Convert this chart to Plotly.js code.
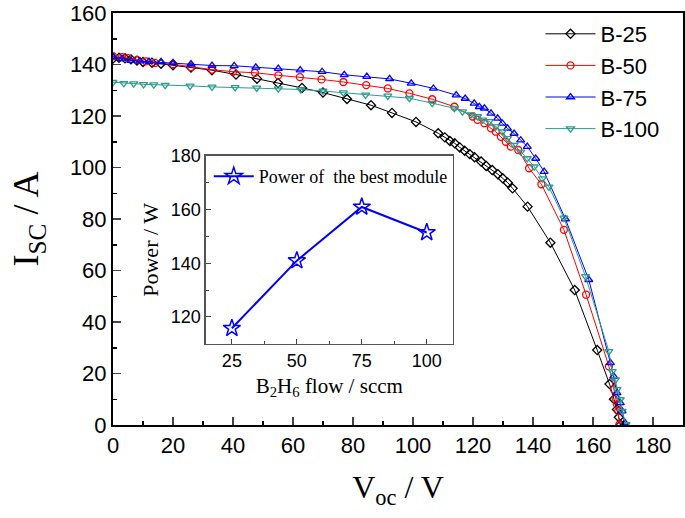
<!DOCTYPE html>
<html>
<head>
<meta charset="utf-8">
<script src="https://cdn.plot.ly/plotly-3.0.1.min.js"></script>
<style>html,body{margin:0;padding:0;background:#fff}#chart{width:685px;height:518px}</style>
</head>
<body>
<div id="chart"></div>
<script>
// ---- Data ----
const b25V = [0,2,4,6,8,10,13,16,20,26,33,41,48,55,63,70,78,86,93,101,108.4,110.6,112.3,113.9,115.6,117.2,118.9,120.5,122.7,124.4,126.4,128.3,129.9,131.6,133.2,138.2,145.8,153.9,161.4,165.5,167,168,168.6,169.2];
const b25I = [142.3,142.6,142.4,142,141.5,141,140.7,140.3,139.7,138.8,137.8,136.1,134.5,132.8,130.9,129.1,126.6,124.2,121.2,117.7,113.3,111.7,110.3,109.4,107.8,106.5,105.2,104,102.3,100.6,99,97.4,95.8,94.1,91.9,84.8,70.8,52.4,29.1,15.9,10,6,3,0];

const b50V = [0,3,5,8,11,14,20,26,33,40,47.3,55.1,62.3,69.5,76.8,84.4,91.6,98.8,106.4,113.8,119.9,121.5,123.8,126,127.6,129.3,130.9,132.6,135.1,138.7,142.8,150.3,157.7,165.3,167,167.5,168,168.4,168.8];
const b50I = [143.2,142.9,142.5,141.8,141.2,140.6,140.1,139,138,137.2,136.8,135.8,135.1,134.2,133.2,132,130.7,128.8,126.5,123.6,119.8,118.5,117.2,115.2,113.9,111.9,110,108.1,106.8,99.7,93.5,75.8,50.6,22.8,13.8,10.5,8,5.4,0.2];

const b75V = [0,3,6,9,12,16,20,26,33,40.4,47.6,55.1,62.4,69.7,77.1,84.6,92.2,99.4,106.8,114.4,117.4,120.4,122.1,123.8,126,128.2,129.8,131.5,133.7,135.9,138.1,140.9,143.7,150.8,158.6,165.8,166.9,168,169.1,169.7,170.6];
const b75I = [143,142.2,141.5,141.3,141.1,141,140.7,140.2,139.6,139.5,138.9,138.4,137.8,137.2,136,135.3,134.4,132.7,130.7,128.1,126.8,124.9,123.6,123,121,119.1,117.1,115.2,113.2,110.6,108.1,103.5,98.4,80,56.4,24.1,18.9,12.5,8.6,5.4,0.9];

const b100V = [0,3.6,6.9,10.2,13.6,17.4,25.7,33,40.7,47.9,55.1,62.6,70,76.8,84.2,91.6,98.8,106.4,113.8,116.5,119.3,121.5,123.2,125.4,127.6,129.8,131.5,133.7,135.9,138.1,140.4,143.1,145.3,150.3,157.5,165.3,166.4,167.5,168,169.1,169.7,171];
const b100I = [133.1,132.7,132.6,132.3,132.2,132,131.7,131.3,131.1,130.9,130.6,130.3,129.7,129.1,128.2,127.8,126.9,125,123,121.7,120.5,119.8,118.5,117.9,115.9,113.9,111.3,108.7,106.1,103.5,100.3,95.7,92.5,80.4,57.7,28.6,20.8,17.6,13.8,9.9,5.4,0.2];

const flow = [25, 50, 75, 100];
const power = [115.8, 141, 161, 151.5];

const names = ['B-25', 'B-50', 'B-75', 'B-100'];
const colors = ['#000000', '#ff0000', '#0000ff', '#2a9d8f'];

// ---- Traces ----
function ivTrace(x, y, name, color, symbol, grp) {
  return {
    x: x, y: y, name: name, type: 'scatter', mode: 'lines+markers',
    line: {color: color, width: 1},
    marker: {symbol: symbol, size: 7, color: color, line: {color: color, width: 1.3}},
    legendgroup: grp, xaxis: 'x', yaxis: 'y'
  };
}
const traces = [
  ivTrace(b25V, b25I, names[0], colors[0], 'diamond-open', 'g1'),
  ivTrace(b50V, b50I, names[1], colors[1], 'circle-open', 'g2'),
  ivTrace(b75V, b75I, names[2], colors[2], 'triangle-up-open', 'g3'),
  ivTrace(b100V, b100I, names[3], colors[3], 'triangle-down-open', 'g4'),
  {
    x: flow, y: power, name: 'Power of  the best module', type: 'scatter', mode: 'lines+markers',
    line: {color: '#0000ff', width: 2},
    marker: {symbol: 'star-open', size: 13, color: '#0000ff', line: {color: '#0000ff', width: 1.5}},
    xaxis: 'x2', yaxis: 'y2', legend: 'legend2'
  }
];

const serif = 'Liberation Serif, Times New Roman, serif';
const sans = 'Liberation Sans, Arial, sans-serif';

const layout = {
  width: 685, height: 518,
  margin: {l: 113, r: 2, t: 13, b: 93},
  paper_bgcolor: '#fff', plot_bgcolor: '#fff',
  showlegend: true,
  xaxis: {
    range: [0, 190], tick0: 0, dtick: 20, ticks: 'inside', ticklen: 8, tickwidth: 1.5,
    minor: {dtick: 10, ticks: 'inside', ticklen: 4, tickwidth: 1.5, tickcolor: '#000'},
    showline: true, linewidth: 2, linecolor: '#000', mirror: true, showgrid: false, zeroline: false,
    tickfont: {family: sans, size: 22, color: '#000'},
    title: {text: 'V<sub>oc</sub> / V', font: {family: serif, size: 32, color: '#000'}, standoff: 18},
    domain: [0, 1]
  },
  yaxis: {
    range: [0, 160], tick0: 0, dtick: 20, ticks: 'inside', ticklen: 8, tickwidth: 1.5,
    minor: {dtick: 10, ticks: 'inside', ticklen: 4, tickwidth: 1.5, tickcolor: '#000'},
    showline: true, linewidth: 2, linecolor: '#000', mirror: true, showgrid: false, zeroline: false,
    tickfont: {family: sans, size: 22, color: '#000'},
    title: {text: 'I<sub>SC</sub> / A', font: {family: serif, size: 36, color: '#000'}, standoff: 20},
    domain: [0, 1]
  },
  xaxis2: {
    anchor: 'y2', domain: [0.163, 0.596], range: [15, 110],
    tickvals: flow, ticks: 'inside', ticklen: 5, tickwidth: 1, tickcolor: '#444',
    minor: {tickvals: [37.5, 62.5, 87.5], ticks: 'inside', ticklen: 3, tickcolor: '#444'},
    showline: true, linewidth: 1.5, linecolor: '#555', mirror: true, showgrid: false, zeroline: false,
    tickfont: {family: sans, size: 18, color: '#000'},
    title: {text: 'B<sub>2</sub>H<sub>6</sub> flow / sccm', font: {family: serif, size: 21, color: '#000'}, standoff: 8}
  },
  yaxis2: {
    anchor: 'x2', domain: [0.197, 0.653], range: [110, 180],
    tick0: 120, dtick: 20, ticks: 'inside', ticklen: 5, tickwidth: 1, tickcolor: '#444',
    minor: {dtick: 10, ticks: 'inside', ticklen: 3, tickcolor: '#444'},
    showline: true, linewidth: 1.5, linecolor: '#555', mirror: true, showgrid: false, zeroline: false,
    tickfont: {family: sans, size: 18, color: '#000'},
    title: {text: 'Power / W', font: {family: serif, size: 22, color: '#000'}, standoff: 6}
  },
  legend: {
    x: 0.75, y: 1.0, xanchor: 'left', yanchor: 'top',
    font: {family: sans, size: 22, color: '#000'},
    bgcolor: 'rgba(0,0,0,0)', borderwidth: 0,
    traceorder: 'grouped', tracegroupgap: 0, itemwidth: 50
  },
  legend2: {
    x: 0.168, y: 0.648, xanchor: 'left', yanchor: 'top',
    font: {family: serif, size: 18, color: '#000'},
    bgcolor: 'rgba(0,0,0,0)', borderwidth: 0, itemwidth: 40
  }
};

Plotly.newPlot('chart', traces, layout, {displayModeBar: false, staticPlot: true});
</script>
</body>
</html>
